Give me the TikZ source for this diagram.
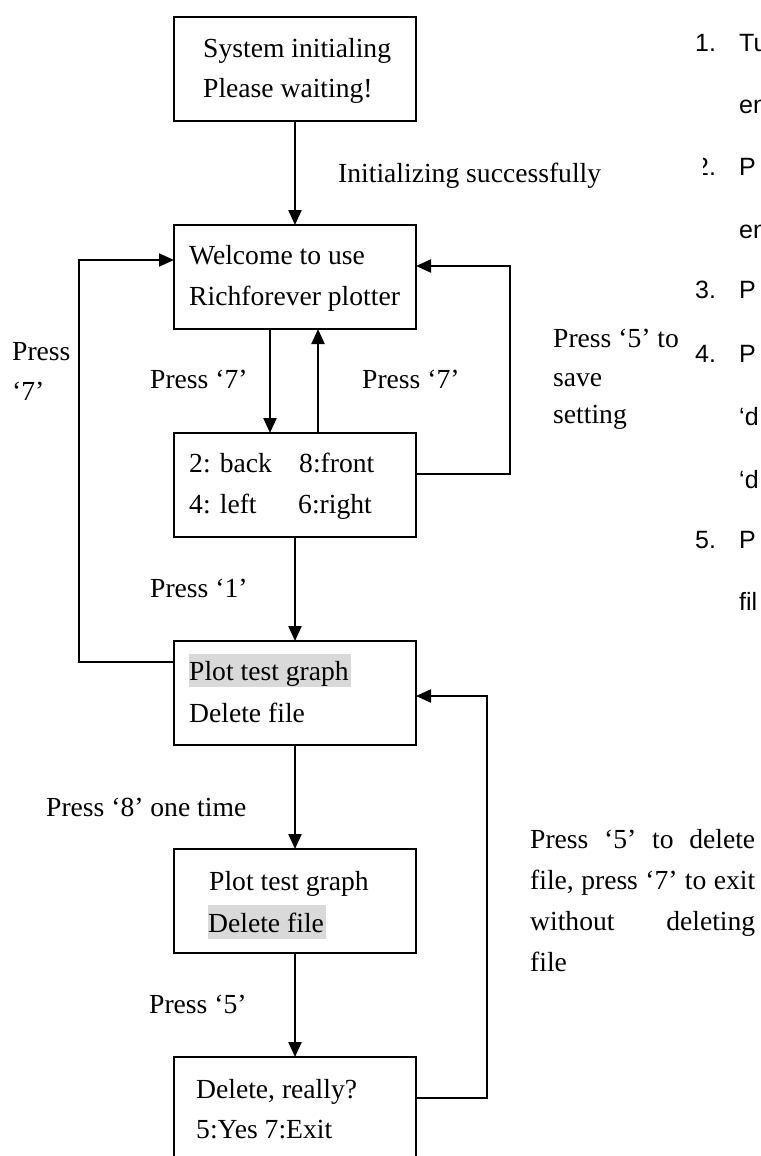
\documentclass[tikz,border=0pt]{standalone}
\usepackage{fontspec}
\setmainfont{Liberation Serif}
\newfontfamily\rsans{Liberation Sans}
\usetikzlibrary{arrows.meta,calc}
\definecolor{hl}{HTML}{D9D9D9}
\begin{document}
\begin{tikzpicture}[x=1pt,y=-1pt,
  box/.style={draw,line width=1.8pt,minimum width=242pt,minimum height=104pt,inner sep=0pt,outer sep=0pt},
  txt/.style={anchor=base west,inner sep=0pt,font=\fontsize{27.6}{40}\selectfont},
  rtxt/.style={anchor=base west,inner sep=0pt,font=\rsans\fontsize{25}{30}\selectfont},
  arr/.style={line width=2.2pt,-{Triangle[width=13pt,length=15pt]}},
  hlbox/.style={fill=hl,draw=none}]
\useasboundingbox (0,0) rectangle (760,1156);
\clip (0,0) rectangle (760,1156);

% boxes
\node[box] (b1) at (295,69) {};
\node[box] (b2) at (295,277) {};
\node[box] (b3) at (295,485) {};
\node[box] (b4) at (295,693) {};
\node[box] (b5) at (295,901) {};
\node[box] (b6) at (295,1109) {};

% highlights
\fill[hl] (189,654) rectangle (351,687);
\fill[hl] (208,905) rectangle (326,939);

% box texts
\node[txt] (t1a) at (203,57) {System initialing};
\node[txt] (t1b) at (203,97) {Please waiting!};
\node[txt] (t2a) at (189,264) {Welcome to use};
\node[txt] (t2b) at (189,305) {Richforever plotter};
\node[txt] (t3a) at (189,472) {2: back};
\node[txt] (t3b) at (299,472) {8:front};
\node[txt] (t3c) at (189,513) {4: left};
\node[txt] (t3d) at (298,513) {6:right};
\node[txt] (t4a) at (189,680) {Plot test graph};
\node[txt] (t4b) at (189,722) {Delete file};
\node[txt] (t5a) at (209,890) {Plot test graph};
\node[txt] (t5b) at (208,932) {Delete file};
\node[txt] (t6a) at (196,1098) {Delete, really?};
\node[txt] (t6b) at (196,1138) {5:Yes 7:Exit};

% connectors
\draw[arr] (b1.south) -- (b2.north);
\draw[arr] ($(b2.south)+(-25,0)$) -- ($(b3.north)+(-25,0)$);
\draw[arr] ($(b3.north)+(23,0)$) -- ($(b2.south)+(23,0)$);
\draw[arr] (b3.south) -- (b4.north);
\draw[arr] (b4.south) -- (b5.north);
\draw[arr] (b5.south) -- (b6.north);
\draw[arr] ($(b4.north west)+(0,21)$) -- ++(-95,0) |- ($(b2.north west)+(0,35)$);
\draw[arr] ($(b3.north east)+(0,41)$) -- ++(94,0) |- ($(b2.north east)+(0,41)$);
\draw[arr] ($(b6.north east)+(0,41)$) -- ++(71,0) |- ($(b4.north east)+(0,55)$);

% labels
\node[txt] (l1) at (338,182) {Initializing successfully};
\node[txt] (l2a) at (12,360) {Press};
\node[txt] (l2b) at (12,400) {‘7’};
\node[txt] (l3) at (150,388) {Press ‘7’};
\node[txt] (l4) at (362,388) {Press ‘7’};
\node[txt] (l5a) at (553,347) {Press ‘5’ to};
\node[txt] (l5b) at (553,386) {save};
\node[txt] (l5c) at (553,423) {setting};
\node[txt] (l6) at (150,597) {Press ‘1’};
\node[txt] (l7) at (46,816) {Press ‘8’ one time};
\node[txt] (l8) at (149,1013) {Press ‘5’};
\node[txt] (l9a) at (530,848) {\hbox to 225pt{Press\hfill ‘5’\hfill to\hfill delete}};
\node[txt] (l9b) at (530,889) {\hbox to 225pt{file,\hfill press\hfill ‘7’\hfill to\hfill exit}};
\node[txt] (l9c) at (530,930) {\hbox to 225pt{without\hfill deleting}};
\node[txt] (l9d) at (530,971) {file};

% right column (cut off)
\node[rtxt] (n1) at (695,52) {1.};
\node[rtxt] (r1) at (739,52) {Tu};
\node[rtxt] (r2) at (739,113) {en};
\node[rtxt] (n2) at (695,175) {2.};
\fill[white] (640,150) rectangle (703,181);
\node[rtxt] (r3) at (739,175) {P};
\node[rtxt] (r4) at (739,238) {en};
\node[rtxt] (n3) at (695,298) {3.};
\node[rtxt] (r5) at (739,298) {P};
\node[rtxt] (n4) at (695,362) {4.};
\node[rtxt] (r6) at (739,362) {P};
\node[rtxt] (r7) at (739,425) {‘d};
\node[rtxt] (r8) at (739,488) {‘d};
\node[rtxt] (n5) at (695,548) {5.};
\node[rtxt] (r9) at (739,548) {P};
\node[rtxt] (r10) at (739,610) {fil};
\end{tikzpicture}
\end{document}
